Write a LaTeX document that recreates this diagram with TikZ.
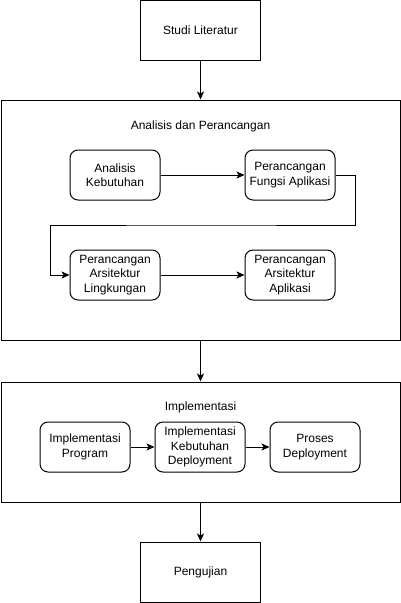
\documentclass[tikz,border=0pt]{standalone}
\usepackage{fontspec}
\setmainfont{Liberation Sans}
\usetikzlibrary{arrows.meta}
\begin{document}
\begin{tikzpicture}[x=1pt,y=-1pt,
  every node/.style={font=\fontsize{12}{14.4}\selectfont, align=center, inner sep=0pt},
  sqbox/.style={draw, line width=1pt, minimum width=120pt, minimum height=60pt},
  rbox/.style={draw, line width=1pt, rounded corners=8pt, minimum width=90pt, minimum height=50pt},
  group/.style={draw, line width=1pt},
  arr/.style={-{Stealth[length=8pt,width=7pt,inset=2pt]}, line width=1pt}]
\useasboundingbox (0,0) rectangle (401,603);
\fill[white] (0,0) rectangle (401,603);
\node[sqbox] (studi) at (200.5,30.5) {Studi Literatur};
\node[group, minimum width=399pt, minimum height=240pt] (ana) at (200.5,220) {};
\node (anat) at (200.5,126) {Analisis dan Perancangan};
\node[rbox] (ak) at (115,175) {Analisis\\Kebutuhan};
\node[rbox] (pfa) at (290,175) {Perancangan\\Fungsi Aplikasi};
\node[rbox] (pal) at (115,275) {Perancangan\\Arsitektur\\Lingkungan};
\node[rbox] (paa) at (290,275) {Perancangan\\Arsitektur\\Aplikasi};
\node[group, minimum width=399pt, minimum height=120pt] (imp) at (200.5,442) {};
\node (impt) at (200.5,407) {Implementasi};
\node[rbox] (ip) at (85,447) {Implementasi\\Program};
\node[rbox] (ikd) at (200,447) {Implementasi\\Kebutuhan\\Deployment};
\node[rbox] (pd) at (315,447) {Proses\\Deployment};
\node[sqbox] (peng) at (200.5,572) {Pengujian};
\draw[arr] (studi.south) -- (ana.north);
\draw[arr] (ak) -- (pfa);
\draw[arr] (pfa.east) -- ++(20,0) |- (200,225) -| (50,275) -- (pal.west);
\draw[arr] (pal) -- (paa);
\draw[arr] (ana.south) -- (imp.north);
\draw[arr] (ip) -- (ikd);
\draw[arr] (ikd) -- (pd);
\draw[arr] (imp.south) -- (peng.north);
\end{tikzpicture}
\end{document}
